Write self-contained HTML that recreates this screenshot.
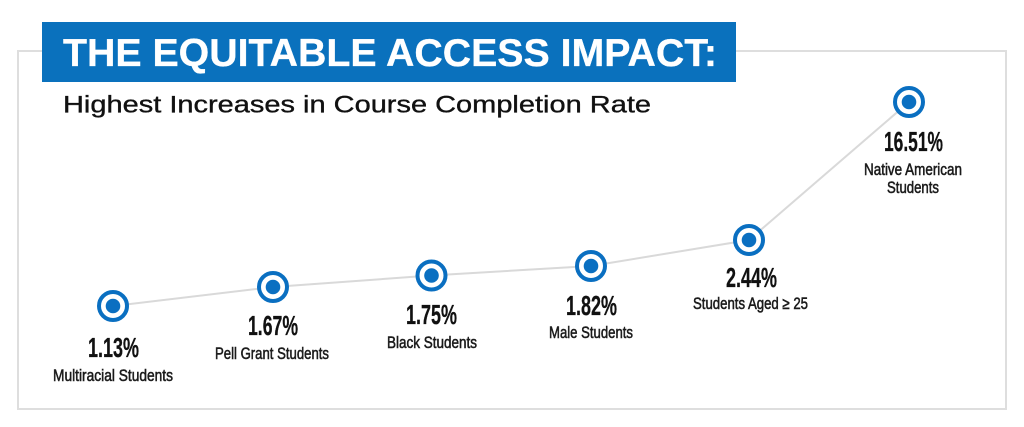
<!DOCTYPE html>
<html>
<head>
<meta charset="utf-8">
<style>
  html, body { margin: 0; padding: 0; background: #ffffff; }
  svg { display: block; }
</style>
</head>
<body>
<svg width="1024" height="427" viewBox="0 0 1024 427" xmlns="http://www.w3.org/2000/svg">
  <rect x="0" y="0" width="1024" height="427" fill="#ffffff"/>
  <!-- frame -->
  <rect x="18" y="51" width="988" height="358" fill="none" stroke="#dedede" stroke-width="2"/>
  <!-- banner -->
  <rect x="42" y="22" width="694" height="60" fill="#0a71bd"/>
  <text x="63" y="66" font-family="Liberation Sans, sans-serif" font-weight="bold" font-size="39" fill="#ffffff" stroke="#ffffff" stroke-width="0.3" textLength="654" lengthAdjust="spacingAndGlyphs">THE EQUITABLE ACCESS IMPACT:</text>
  <!-- subtitle -->
  <text x="63" y="112.5" font-family="Liberation Sans, sans-serif" font-size="24" fill="#111111" stroke="#111111" stroke-width="0.35" textLength="588" lengthAdjust="spacingAndGlyphs">Highest Increases in Course Completion Rate</text>

  <!-- line -->
  <polyline points="113,306 273,287 431,275.5 591,266 749,240 909,102" fill="none" stroke="#d9d9d9" stroke-width="2"/>

  <!-- markers -->
  <g fill="#ffffff" stroke="#0a6fc1" stroke-width="4">
    <circle cx="113" cy="306" r="14"/>
    <circle cx="273" cy="287" r="14"/>
    <circle cx="431.5" cy="275.5" r="14"/>
    <circle cx="591" cy="266" r="14"/>
    <circle cx="749" cy="240" r="14"/>
    <circle cx="909" cy="102" r="14"/>
  </g>
  <g fill="#0a6fc1">
    <circle cx="113" cy="306" r="7.3"/>
    <circle cx="273" cy="287" r="7.3"/>
    <circle cx="431.5" cy="275.5" r="7.3"/>
    <circle cx="591" cy="266" r="7.3"/>
    <circle cx="749" cy="240" r="7.3"/>
    <circle cx="909" cy="102" r="7.3"/>
  </g>

  <!-- values -->
  <g font-family="Liberation Sans, sans-serif" font-weight="bold" font-size="28" fill="#111111" stroke="#111111" stroke-width="0.3">
    <text x="88" y="357" textLength="51" lengthAdjust="spacingAndGlyphs">1.13%</text>
    <text x="248" y="335" textLength="50" lengthAdjust="spacingAndGlyphs">1.67%</text>
    <text x="406" y="324" textLength="51" lengthAdjust="spacingAndGlyphs">1.75%</text>
    <text x="566" y="315" textLength="51" lengthAdjust="spacingAndGlyphs">1.82%</text>
    <text x="726" y="287" textLength="51" lengthAdjust="spacingAndGlyphs">2.44%</text>
    <text x="884" y="151" textLength="59" lengthAdjust="spacingAndGlyphs">16.51%</text>
  </g>

  <!-- labels -->
  <g font-family="Liberation Sans, sans-serif" font-size="16.5" fill="#1a1a1a" stroke="#1a1a1a" stroke-width="0.55">
    <text x="53" y="381" textLength="120" lengthAdjust="spacingAndGlyphs">Multiracial Students</text>
    <text x="215" y="359" textLength="114" lengthAdjust="spacingAndGlyphs">Pell Grant Students</text>
    <text x="387" y="348" textLength="90" lengthAdjust="spacingAndGlyphs">Black Students</text>
    <text x="549" y="338" textLength="84" lengthAdjust="spacingAndGlyphs">Male Students</text>
    <text x="693" y="309" textLength="115" lengthAdjust="spacingAndGlyphs">Students Aged ≥ 25</text>
    <text x="864" y="175" textLength="98" lengthAdjust="spacingAndGlyphs">Native American</text>
    <text x="887" y="193" textLength="52" lengthAdjust="spacingAndGlyphs">Students</text>
  </g>
</svg>
</body>
</html>
